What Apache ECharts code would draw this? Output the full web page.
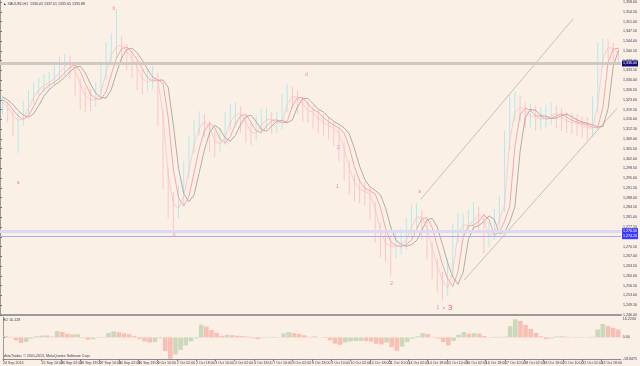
<!DOCTYPE html>
<html><head><meta charset="utf-8">
<script src="https://cdn.jsdelivr.net/npm/echarts@6/dist/echarts.min.js"></script>
<style>html,body{margin:0;padding:0;background:#FBF0E6;overflow:hidden}#c{width:640px;height:366px}</style>
</head><body><div id="c"></div><script>
// ---- time axis tick labels (every 16 H1 bars) ----
const timeLabels = ['24 Sep 2013','24 Sep 18:00','25 Sep 10:00','26 Sep 02:00','26 Sep 18:00','27 Sep 10:00','30 Sep 02:00','30 Sep 18:00','1 Oct 10:00','2 Oct 02:00','2 Oct 18:00','3 Oct 10:00','4 Oct 02:00','4 Oct 18:00','7 Oct 10:00','8 Oct 02:00','8 Oct 18:00','9 Oct 10:00','10 Oct 02:00','10 Oct 18:00','11 Oct 10:00','14 Oct 02:00','14 Oct 18:00','15 Oct 10:00','16 Oct 02:00','16 Oct 18:00','17 Oct 10:00','18 Oct 02:00','18 Oct 18:00','21 Oct 10:00','22 Oct 02:00','22 Oct 18:00'];

// ---- price bars (one value per 4 hours) ----
const barClose = [1320.3,1317.4,1315.6,1316.4,1319.9,1323.9,1326.7,1328.1,1329.2,1330.6,1332.8,1334.9,1336.4,1333.9,1328.5,1324.2,1323.1,1322.8,1325.6,1332.8,1338.9,1342.1,1342.4,1340.3,1337.8,1334.6,1330.6,1329.2,1330.3,1330.3,1317.4,1296.0,1286.0,1284.2,1288.5,1297.8,1306.7,1312.8,1315.3,1313.1,1308.5,1307.1,1309.6,1314.9,1317.8,1318.1,1314.9,1311.4,1311.0,1313.9,1316.0,1316.0,1314.6,1314.9,1321.4,1324.2,1323.9,1321.4,1319.2,1318.5,1316.4,1314.9,1313.9,1312.8,1311.0,1305.6,1298.5,1293.5,1291.0,1290.3,1289.2,1284.2,1276.4,1271.7,1270.7,1270.3,1271.4,1272.8,1277.1,1281.0,1281.0,1277.1,1270.0,1263.5,1258.5,1255.7,1262.1,1275.0,1278.2,1278.2,1279.6,1282.1,1280.0,1273.9,1275.7,1280.0,1285.3,1308.5,1318.5,1320.3,1319.2,1317.1,1317.1,1316.0,1316.4,1317.4,1318.1,1316.7,1315.6,1314.9,1314.6,1313.9,1313.1,1312.8,1321.0,1337.8,1341.7,1341.4,1339.2,1338.4];
const barHigh = [1324.5,1322.3,1319.5,1318.6,1322.5,1326.4,1329.0,1331.0,1332.4,1333.0,1336.0,1338.5,1339.5,1338.8,1336.1,1330.6,1327.4,1326.9,1329.3,1336.9,1343.6,1346.8,1355.4,1345.6,1343.0,1340.8,1337.3,1333.9,1334.0,1335.2,1332.6,1319.5,1298.8,1290.0,1292.2,1301.0,1310.2,1316.0,1318.9,1318.0,1315.4,1311.6,1313.0,1318.6,1321.5,1322.2,1320.6,1317.3,1315.1,1317.6,1319.8,1320.1,1318.7,1318.9,1325.1,1328.5,1327.8,1326.3,1324.0,1322.6,1321.0,1319.3,1318.0,1316.9,1315.5,1313.4,1307.9,1301.2,1296.5,1294.6,1293.8,1291.6,1286.6,1279.0,1275.4,1274.6,1275.8,1277.0,1280.9,1285.5,1286.0,1283.6,1279.5,1272.4,1266.0,1261.4,1266.0,1278.7,1282.6,1282.4,1283.8,1286.4,1285.0,1282.4,1279.8,1284.0,1288.6,1312.0,1324.8,1326.0,1324.6,1322.0,1321.5,1320.8,1320.4,1321.2,1322.0,1321.0,1319.8,1318.7,1318.4,1317.8,1317.0,1316.8,1324.2,1343.5,1345.0,1344.8,1343.6,1341.8];
const barLow = [1317.8,1314.9,1310.0,1304.0,1313.8,1317.6,1321.5,1324.6,1325.8,1326.5,1328.5,1330.2,1331.8,1330.4,1324.5,1319.5,1318.6,1319.0,1320.4,1323.0,1330.2,1336.0,1338.0,1336.7,1333.6,1330.8,1326.4,1325.0,1326.1,1326.8,1313.5,1291.0,1280.5,1275.0,1280.6,1285.5,1295.0,1304.0,1310.2,1309.6,1304.3,1302.5,1304.4,1306.9,1312.3,1314.0,1311.2,1307.6,1306.8,1308.5,1310.9,1312.4,1310.8,1311.0,1312.4,1318.6,1320.1,1317.9,1315.3,1314.8,1312.6,1311.0,1310.2,1308.8,1306.5,1301.0,1294.0,1289.0,1286.8,1286.0,1285.0,1279.9,1271.8,1266.5,1265.0,1260.0,1266.2,1267.6,1269.4,1273.5,1277.0,1273.0,1265.8,1258.8,1254.0,1251.2,1252.8,1259.6,1271.8,1274.0,1275.2,1276.5,1276.2,1268.0,1270.3,1272.8,1277.5,1283.0,1305.0,1315.4,1315.5,1313.0,1313.2,1312.0,1312.3,1313.0,1314.0,1313.0,1311.8,1311.2,1310.8,1310.0,1309.3,1308.6,1309.8,1318.4,1334.8,1337.6,1335.4,1335.8];

// ---- Alligator-style lines ----
const lips = [1322.1,1320.3,1317.4,1315.6,1316.4,1319.9,1323.9,1326.7,1328.1,1329.2,1330.6,1332.8,1334.9,1336.4,1333.9,1328.5,1324.2,1323.1,1322.8,1325.6,1332.8,1338.9,1342.1,1342.4,1340.3,1337.8,1334.6,1330.6,1329.2,1330.3,1330.3,1317.4,1296.0,1286.0,1284.2,1288.5,1297.8,1306.7,1312.8,1315.3,1313.1,1308.5,1307.1,1309.6,1314.9,1317.8,1318.1,1314.9,1311.4,1311.0,1313.9,1316.0,1316.0,1314.6,1314.9,1321.4,1324.2,1323.9,1321.4,1319.2,1318.5,1316.4,1314.9,1313.9,1312.8,1311.0,1305.6,1298.5,1293.5,1291.0,1290.3,1289.2,1284.2,1276.4,1271.7,1270.7,1270.3,1271.4,1272.8,1277.1,1281.0,1281.0,1277.1,1270.0,1263.5,1258.5,1255.7,1262.1,1275.0,1278.2,1278.2,1279.6,1282.1,1280.0,1273.9,1275.7,1280.0,1285.3,1308.5,1318.5,1320.3,1319.2,1317.1,1317.1,1316.0,1316.4,1317.4,1318.1,1316.7,1315.6,1314.9,1314.6,1313.9,1313.1,1312.8,1321.0,1337.8,1341.7,1341.4,1339.2];
const teeth = [1323.0,1321.8,1319.5,1317.2,1316.0,1317.4,1320.6,1324.2,1326.6,1328.2,1329.3,1330.8,1332.7,1334.6,1335.6,1333.2,1328.8,1325.0,1323.4,1323.2,1325.9,1332.0,1337.9,1341.3,1341.9,1340.0,1337.4,1334.2,1330.9,1329.7,1330.1,1329.0,1316.5,1298.0,1288.0,1285.0,1288.4,1297.0,1305.5,1311.8,1314.6,1313.0,1309.0,1307.6,1309.8,1314.3,1317.3,1317.8,1315.0,1311.9,1311.3,1313.6,1315.6,1315.8,1314.8,1315.2,1320.8,1323.8,1323.7,1321.6,1319.5,1318.6,1316.6,1315.1,1314.0,1312.9,1311.1,1306.0,1299.0,1294.0,1291.3,1290.4,1289.3,1284.6,1277.0,1272.2,1270.9,1270.4,1271.3,1272.7,1276.6,1280.4,1280.8,1277.4,1270.7,1264.1,1259.0,1256.2,1261.5,1273.8,1277.8,1278.2,1279.5,1281.8,1280.1,1274.6,1275.6,1279.6,1284.9,1306.3,1317.6,1320.0,1319.3,1317.3,1317.1,1316.1,1316.4,1317.3,1318.0,1316.8,1315.7,1315.0,1314.6,1314.0,1313.2,1312.9,1320.3,1336.4,1341.2,1341.4];
const jaw = [1324.0,1323.0,1321.3,1319.2,1317.5,1316.8,1318.0,1321.0,1324.3,1326.6,1328.2,1329.5,1331.1,1333.0,1334.6,1335.0,1332.6,1328.6,1325.4,1323.8,1323.6,1326.6,1332.6,1338.0,1341.0,1341.5,1339.8,1337.2,1334.0,1331.2,1330.0,1330.1,1327.5,1314.0,1298.5,1289.5,1286.5,1289.0,1297.0,1305.0,1311.2,1313.9,1312.6,1309.4,1308.2,1310.3,1314.2,1317.0,1317.5,1315.2,1312.4,1311.8,1313.6,1315.3,1315.6,1314.8,1315.8,1320.5,1323.4,1323.5,1321.6,1319.7,1318.6,1316.8,1315.3,1314.2,1313.0,1310.8,1305.5,1299.2,1294.5,1291.8,1290.6,1289.0,1284.4,1277.5,1272.8,1271.2,1270.6,1271.2,1272.6,1276.2,1280.0,1280.6,1277.5,1271.2,1264.8,1259.6,1257.0,1261.3,1273.0,1277.3,1278.0,1279.4,1281.5,1280.2,1275.2,1275.5,1279.3,1284.8,1304.5,1316.7,1319.6,1319.2,1317.4,1317.1,1316.3,1316.5,1317.3,1317.9,1316.9,1315.8,1315.1,1314.6,1314.0,1313.3,1313.4,1319.8,1335.0,1340.6];

// ---- Awesome Oscillator ----
const ao = [1.2,0.5,-2.5,-4.8,-4.0,-1.0,1.0,1.6,1.8,0.8,5.5,4.8,3.2,2.6,2.8,-0.5,-2.0,-1.5,-0.5,0.5,4.0,5.3,4.6,3.6,2.8,1.2,-1.5,-3.5,-4.4,-4.0,-0.8,-12.0,-18.8,-15.0,-11.0,-7.0,-3.5,-0.8,11.2,9.5,6.5,4.0,1.5,2.4,2.0,1.5,1.2,0.8,-0.8,-1.5,-0.6,0.5,0.6,0.4,3.5,4.7,3.8,3.0,1.8,0.6,1.0,0.2,-0.5,-2.5,-5.5,-6.5,-4.5,-3.5,-3.2,-3.0,-3.2,-3.6,-5.5,-6.2,-4.5,-8.5,-11.8,-8.0,-4.0,-1.0,1.0,3.8,3.0,0.5,-1.0,-4.0,-7.0,-3.0,2.5,4.7,3.2,3.8,3.4,1.2,0.4,0.6,0.5,0.8,10.0,16.0,14.5,11.0,7.5,4.0,1.0,-1.5,-0.8,0.8,1.0,0.6,0.2,0.4,0.3,0.2,0.6,7.0,11.8,10.0,8.5,7.0];
const aoScaleLabels = [16.2234, 0, -18.8475];

// ---- levels, trend lines, wave labels ----
const bidPrice = 1336.0;
const levelPrices = [1276.0, 1274.2];
const trendUpper = [[81.3, 1287.4], [110.8, 1352.1]];
const trendLower = [[89.7, 1258.5], [119.2, 1319.9]];
const waveText  = ['b', 'a', 'c', 'd', '2', '1', 'a', '2'];
const waveX     = [22.0, 3.5, 33.7, 59.2, 65.4, 65.2, 81.1, 75.7];
const wavePrice = [1355.6, 1293.2, 1274.6, 1332.1, 1306.0, 1292.1, 1290.0, 1257.4];
const finalMark = {x: 85.9, price: 1248.6};

function fmtPrice(v) {
  const s = v.toFixed(2);
  const [a, b] = s.split('.');
  return a.replace(/\B(?=(\d{3})+$)/g, ',') + '.' + b;
}
const pts = arr => arr.map((v, i) => [i + 0.5, v]);
const FONT = 'Liberation Sans';
const TS = 3.6;
const tiny = {fontSize: TS, fontFamily: FONT, color: '#3a3a55'};

const barData = barHigh.map((h, i) => {
  const prev = i ? barClose[i - 1] : barClose[i];
  return [i + 0.5, barLow[i], h, barClose[i] >= prev ? 1 : 0];
});
const aoData = ao.map((v, i) => ({
  value: [i + 0.5, v],
  itemStyle: {color: (i === 0 || v >= ao[i - 1]) ? '#cbd8bb' : '#f8bfb5'}
}));
const boxLabel = (txt, bg) => ({show: true, position: 'end', distance: 1, formatter: txt,
  backgroundColor: bg, color: '#fff', fontSize: TS, fontFamily: FONT, padding: [1, 1]});

const chart = echarts.init(document.getElementById('c'), null, {renderer: 'canvas'});
chart.setOption({
  animation: false,
  backgroundColor: '#FBF0E6',
  grid: [
    {left: 0, right: 14, top: 0, height: 315},
    {left: 0, right: 14, top: 317, height: 42}
  ],
  xAxis: [
    {type: 'value', gridIndex: 0, min: 0, max: 120, interval: 3.75,
     axisLine: {show: true, onZero: false, lineStyle: {color: '#9a9a9a', width: 2}},
     axisTick: {show: false}, axisLabel: {show: false}, splitLine: {show: false}},
    {type: 'value', gridIndex: 1, min: 0, max: 120, interval: 3.75,
     axisLine: {show: true, onZero: false, lineStyle: {color: '#8a8a8a', width: 1}},
     axisTick: {show: true, length: 2, lineStyle: {color: '#777'}},
     axisLabel: Object.assign({show: true, margin: 2, align: 'left',
       showMinLabel: true, showMaxLabel: false,
       formatter: v => timeLabels[Math.round(v / 3.75)] || ''}, tiny),
     splitLine: {show: false}}
  ],
  yAxis: [
    {type: 'value', gridIndex: 0, position: 'right', min: 1246, max: 1358.5, interval: 3.5,
     axisLine: {show: true, lineStyle: {color: '#9a9a9a'}},
     axisTick: {show: true, length: 2, lineStyle: {color: '#777'}},
     axisLabel: Object.assign({margin: 2, formatter: v => fmtPrice(v)}, tiny),
     splitLine: {show: false}},
    {type: 'value', gridIndex: 1, position: 'right', min: -19, max: 18,
     axisLine: {show: true, lineStyle: {color: '#9a9a9a'}},
     axisTick: {show: true, length: 2, customValues: aoScaleLabels, lineStyle: {color: '#777'}},
     axisLabel: Object.assign({margin: 2, customValues: aoScaleLabels,
       formatter: v => v === 0 ? '0.00' : v.toFixed(4)}, tiny),
     splitLine: {show: false}}
  ],
  series: [
    {type: 'custom', name: 'bars', xAxisIndex: 0, yAxisIndex: 0, clip: true, z: 2,
     data: barData, encode: {x: 0, y: [1, 2]},
     renderItem: (params, api) => {
       const p1 = api.coord([api.value(0), api.value(1)]);
       const p2 = api.coord([api.value(0), api.value(2)]);
       return {type: 'line', shape: {x1: p1[0], y1: p1[1], x2: p2[0], y2: p2[1]},
         style: {stroke: api.value(3) ? '#aeecee' : '#ffc3ca', lineWidth: 1}};
     },
     markLine: {silent: true, symbol: 'none', animation: false,
       data: [
         {yAxis: bidPrice, lineStyle: {color: '#cfc9c3', width: 3, type: 'solid'},
          label: boxLabel(fmtPrice(bidPrice), '#10107a')},
         {yAxis: levelPrices[0], lineStyle: {color: '#dcd9f3', width: 3, type: 'solid'},
          label: boxLabel(fmtPrice(levelPrices[0]), '#3a3aff')},
         {yAxis: levelPrices[1], lineStyle: {color: '#aaaaff', width: 1, type: 'solid'},
          label: boxLabel(fmtPrice(levelPrices[1]), '#3a3aff')}
       ]}},
    {type: 'line', name: 'jaw', data: pts(jaw), symbol: 'none', z: 3,
     lineStyle: {color: '#a09a97', width: 0.8}},
    {type: 'line', name: 'teeth', data: pts(teeth), symbol: 'none', z: 3,
     lineStyle: {color: '#f59494', width: 0.8}},
    {type: 'line', name: 'lips', data: pts(lips), symbol: 'none', z: 3,
     lineStyle: {color: '#ffbfc6', width: 0.8}},
    {type: 'line', name: 'trendUpper', data: trendUpper, symbol: 'none', z: 2,
     lineStyle: {color: '#bbb2aa', width: 0.8}},
    {type: 'line', name: 'trendLower', data: trendLower, symbol: 'none', z: 2,
     lineStyle: {color: '#bbb2aa', width: 0.8}},
    {type: 'scatter', name: 'waves', symbolSize: 0, z: 5,
     data: waveText.map((t, i) => ({value: [waveX[i], wavePrice[i]], name: t})),
     label: {show: true, position: 'inside', formatter: p => p.name,
       fontSize: 5, fontFamily: FONT, color: '#f06aa8'}},
    {type: 'scatter', name: 'final', symbolSize: 0, z: 5,
     data: [{value: [finalMark.x, finalMark.price]}],
     label: {show: true, position: 'inside', formatter: '{a|1} {b|●} {c|3}',
       rich: {a: {fontSize: 5, color: '#f06aa8', fontFamily: FONT},
              b: {fontSize: 3.5, color: '#d040d0', fontFamily: FONT},
              c: {fontSize: 8, color: '#f04848', fontFamily: FONT}}}},
    {type: 'bar', name: 'AO', xAxisIndex: 1, yAxisIndex: 1, data: aoData,
     barWidth: 4.6, barGap: '0%'}
  ],
  graphic: [
    {type: 'text', left: 3, top: 2, style: {text: '▲ XAUUSD,H1  1336.05 1337.01 1335.65 1335.88', fontSize: TS, fontFamily: FONT, fill: '#3a3a55'}},
    {type: 'text', left: 3, top: 318, style: {text: 'AO 10.128', fontSize: TS, fontFamily: FONT, fill: '#3a3a55'}},
    {type: 'text', left: 3, top: 354, style: {text: 'MetaTrader, © 2001-2013, MetaQuotes Software Corp.', fontSize: TS, fontFamily: FONT, fill: '#3a3a55'}}
  ]
});
</script></body></html>
